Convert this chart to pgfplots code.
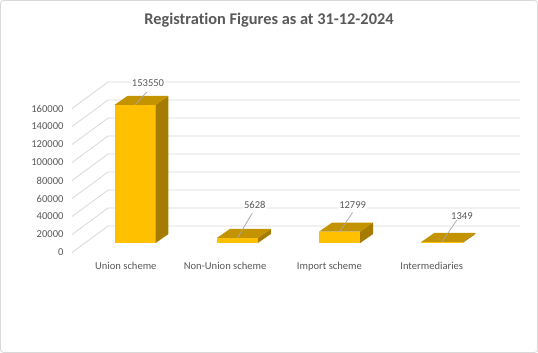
\documentclass[border=0pt]{standalone}
\usepackage{pgfplots}
\pgfplotsset{compat=1.18}
\usepackage{fontspec}
\setmainfont{Carlito}[Ligatures=NoCommon]
\definecolor{frontc}{HTML}{FFC000}
\definecolor{topc}{HTML}{C49300}
\definecolor{sidec}{HTML}{A67C00}
\definecolor{txt}{HTML}{595959}
\definecolor{gridc}{HTML}{D9D9D9}
\definecolor{leadc}{HTML}{A6A6A6}
\pgfplotsset{
  frontbar/.style={ybar, bar width=0.4, fill=frontc, draw=none,
    nodes near coords={\pgfmathprintnumber[fixed,precision=0,1000 sep={}]{\pgfplotspointmeta}}},
  lab/.style 2 args={every node near coord/.append style={anchor=center, xshift=#1, yshift=#2, fill=white, inner sep=1bp, font=\fontsize{10.6}{12.7}\selectfont, text=txt}},
}
\begin{document}
\begin{tikzpicture}
\useasboundingbox (0,0) rectangle (538bp,353bp);
\fill[white] (0,0) rectangle (538bp,353bp);
\draw[gridc, line width=0.8bp, rounded corners=3bp] (0.5bp,0.5bp) rectangle (537.5bp,352.5bp);
\node[anchor=base, font=\fontsize{16.4}{19}\selectfont\bfseries, text=txt] at (269bp,328bp) {Registration Figures as at 31-12-2024};
\begin{axis}[
  at={(72bp,100.5bp)}, anchor=south west,
  scale only axis, width=448bp, height=171.45bp,
  xmin=-0.616, xmax=3.763, ymin=-10500, ymax=180000,
  clip=false,
  axis line style={draw=none},
  major tick length=0pt,
  xtick={-0.09,0.88,1.9,2.9},
  xticklabels={Union scheme, Non-Union scheme, Import scheme, Intermediaries},
  ytick={-10500,9500,29500,49500,69500,89500,109500,129500,149500},
  yticklabels={0,20000,40000,60000,80000,100000,120000,140000,160000},
  scaled y ticks=false,
  tick label style={font=\fontsize{10.6}{12.7}\selectfont, text=txt},
  /pgf/number format/assume math mode=true,
  xticklabel style={anchor=base, yshift=-17bp},
  yticklabel style={anchor=east, xshift=-5bp},
]
% gridlines (left slanted wall edge + back wall)
\addplot[gridc, line width=0.8bp, mark=none] coordinates {(-0.616,-10500)(-0.264,18900)(3.763,18900)};
\addplot[gridc, line width=0.8bp, mark=none] coordinates {(-0.616,9500)(-0.264,38900)(3.763,38900)};
\addplot[gridc, line width=0.8bp, mark=none] coordinates {(-0.616,29500)(-0.264,58900)(3.763,58900)};
\addplot[gridc, line width=0.8bp, mark=none] coordinates {(-0.616,49500)(-0.264,78900)(3.763,78900)};
\addplot[gridc, line width=0.8bp, mark=none] coordinates {(-0.616,69500)(-0.264,98900)(3.763,98900)};
\addplot[gridc, line width=0.8bp, mark=none] coordinates {(-0.616,89500)(-0.264,118900)(3.763,118900)};
\addplot[gridc, line width=0.8bp, mark=none] coordinates {(-0.616,109500)(-0.264,138900)(3.763,138900)};
\addplot[gridc, line width=0.8bp, mark=none] coordinates {(-0.616,129500)(-0.264,158900)(3.763,158900)};
\addplot[gridc, line width=0.8bp, mark=none] coordinates {(-0.616,149500)(-0.264,178900)(3.763,178900)};
% side faces
\addplot[fill=sidec, draw=none, mark=none] coordinates {(0.2,0)(0.327,10000)(0.327,163550)(0.2,153550)} -- cycle;
\addplot[fill=sidec, draw=none, mark=none] coordinates {(1.2,0)(1.327,10000)(1.327,15628)(1.2,5628)} -- cycle;
\addplot[fill=sidec, draw=none, mark=none] coordinates {(2.2,0)(2.327,10000)(2.327,22799)(2.2,12799)} -- cycle;
\addplot[fill=sidec, draw=none, mark=none] coordinates {(3.2,0)(3.327,10000)(3.327,11349)(3.2,1349)} -- cycle;
% top faces
\addplot[fill=topc, draw=none, mark=none] coordinates {(-0.2,153550)(0.2,153550)(0.327,163550)(-0.073,163550)} -- cycle;
\addplot[fill=topc, draw=none, mark=none] coordinates {(0.8,5628)(1.2,5628)(1.327,15628)(0.927,15628)} -- cycle;
\addplot[fill=topc, draw=none, mark=none] coordinates {(1.8,12799)(2.2,12799)(2.327,22799)(1.927,22799)} -- cycle;
\addplot[fill=topc, draw=none, mark=none] coordinates {(2.8,1349)(3.2,1349)(3.327,11349)(2.927,11349)} -- cycle;
% leader lines
\addplot[leadc, line width=0.7bp, mark=none] coordinates {(0,153550)(0.117,168000)};
\addplot[leadc, line width=0.7bp, mark=none] coordinates {(1,5628)(1.147,33400)};
\addplot[leadc, line width=0.7bp, mark=none] coordinates {(2,12799)(2.127,33900)};
\addplot[leadc, line width=0.7bp, mark=none] coordinates {(3,1349)(3.147,25700)};
% front faces with data labels
\addplot[frontbar, lab={13bp}{22bp}] coordinates {(0,153550)};
\addplot[frontbar, lab={17.5bp}{33bp}] coordinates {(1,5628)};
\addplot[frontbar, lab={13bp}{26bp}] coordinates {(2,12799)};
\addplot[frontbar, lab={20bp}{26bp}] coordinates {(3,1349)};
\end{axis}
\end{tikzpicture}
\end{document}
